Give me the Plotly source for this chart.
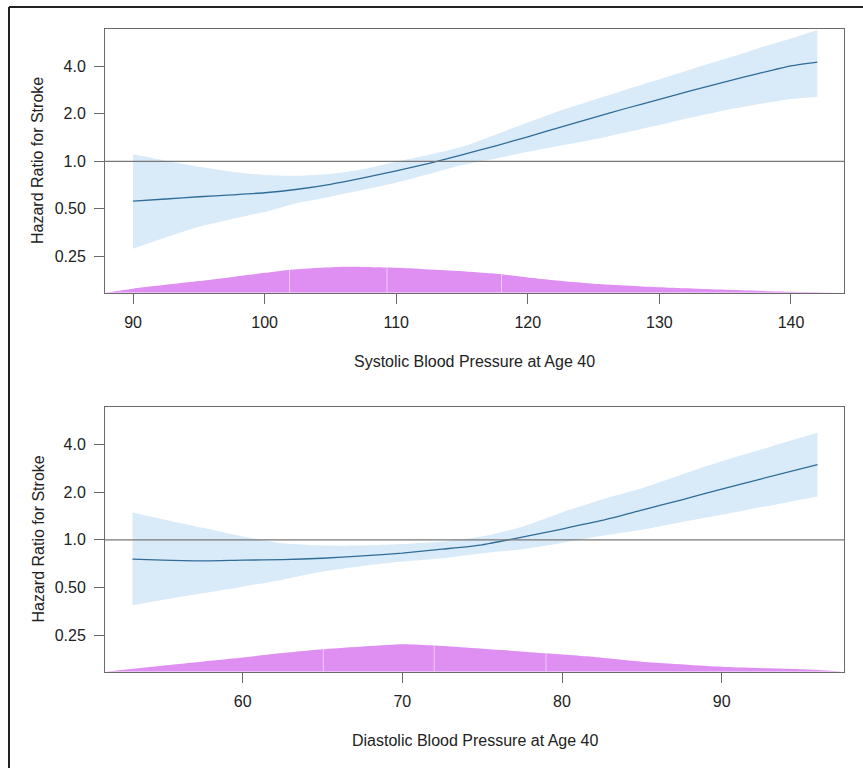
import plotly.graph_objects as go

# ---------------- data ----------------
# Systolic panel
sbp_x = [90, 92.5, 95, 97.5, 100, 102.5, 105, 107.5, 110, 112.5, 115, 117.5, 120, 122.5, 125, 127.5, 130, 132.5, 135, 137.5, 140, 142]
sbp_hr = [0.56, 0.577, 0.596, 0.613, 0.632, 0.665, 0.715, 0.785, 0.87, 0.97, 1.098, 1.25, 1.43, 1.65, 1.89, 2.17, 2.47, 2.82, 3.19, 3.6, 4.03, 4.26]
sbp_lo = [0.279, 0.33, 0.385, 0.43, 0.478, 0.545, 0.597, 0.66, 0.732, 0.83, 0.947, 1.04, 1.15, 1.26, 1.375, 1.53, 1.70, 1.9, 2.11, 2.3, 2.48, 2.57]
sbp_hi = [1.11, 1.01, 0.924, 0.86, 0.819, 0.81, 0.831, 0.89, 0.994, 1.10, 1.237, 1.47, 1.76, 2.1, 2.45, 2.85, 3.31, 3.85, 4.47, 5.2, 6.0, 6.8]
sbp_dens_x = [87.9, 90, 95, 100, 102, 106, 110, 115, 118, 120, 123, 125, 130, 135, 140, 144.0]
sbp_dens = [0.0, 0.0054, 0.0156, 0.0267, 0.031, 0.035, 0.0337, 0.0290, 0.0250, 0.0205, 0.0150, 0.0121, 0.0073, 0.004, 0.0013, 0.0]
sbp_seams = [101.9, 109.3, 118.0]

# Diastolic panel
dbp_x = [53.1, 55, 57.5, 60, 62.5, 65, 67.5, 70, 72.5, 75, 77.5, 80, 82.5, 85, 87.5, 90, 92.5, 96]
dbp_hr = [0.755, 0.745, 0.736, 0.744, 0.75, 0.765, 0.792, 0.824, 0.873, 0.93, 1.04, 1.17, 1.325, 1.54, 1.79, 2.09, 2.43, 2.99]
dbp_lo = [0.387, 0.417, 0.459, 0.506, 0.56, 0.63, 0.684, 0.729, 0.765, 0.824, 0.873, 0.955, 1.06, 1.157, 1.295, 1.44, 1.61, 1.88]
dbp_hi = [1.49, 1.35, 1.19, 1.05, 0.95, 0.92, 0.92, 0.94, 0.976, 1.05, 1.21, 1.49, 1.80, 2.12, 2.58, 3.13, 3.73, 4.74]
dbp_dens_x = [51.4, 55, 60, 62.3, 65, 70, 72, 76, 79, 82, 85, 90, 96, 97.6]
dbp_dens = [0.0, 0.0098, 0.023, 0.030, 0.0367, 0.045, 0.043, 0.036, 0.030, 0.0240, 0.0164, 0.0082, 0.0028, 0.0]
dbp_seams = [65.05, 72.0, 79.0]

y_tickvals = [0.25, 0.5, 1.0, 2.0, 4.0]
y_ticktext = ["0.25", "0.50", "1.0", "2.0", "4.0"]
sbp_ticks = [90, 100, 110, 120, 130, 140]
dbp_ticks = [60, 70, 80, 90]

x_title_1 = "Systolic Blood Pressure at Age 40"
x_title_2 = "Diastolic Blood Pressure at Age 40"
y_title = "Hazard Ratio for Stroke"

# ---------------- styles ----------------
W, H = 863, 768
BAND = "#d9eaf8"
LINE = "#2f6d98"
PURPLE = "#df8ef2"
FONT = "Liberation Sans, Arial, sans-serif"
AXC = "#6a6a6a"
FS = 16

def px_x(p):
    return p / W

def px_y(p):
    return 1 - p / H

fig = go.Figure()

def add_panel(fig, xs, hr, lo, hi, dx, dv, xa, ya, ya2):
    fig.add_trace(go.Scatter(x=dx, y=dv, xaxis=xa, yaxis=ya2, mode="lines",
                             line=dict(width=0, color=PURPLE, shape="spline", smoothing=0.5),
                             fill="tozeroy", fillcolor=PURPLE, hoverinfo="skip", showlegend=False))
    fig.add_trace(go.Scatter(x=xs, y=lo, xaxis=xa, yaxis=ya, mode="lines",
                             line=dict(width=0, color=BAND, shape="spline", smoothing=0.6),
                             hoverinfo="skip", showlegend=False))
    fig.add_trace(go.Scatter(x=xs, y=hi, xaxis=xa, yaxis=ya, mode="lines",
                             line=dict(width=0, color=BAND, shape="spline", smoothing=0.6),
                             fill="tonexty", fillcolor=BAND, hoverinfo="skip", showlegend=False))
    fig.add_trace(go.Scatter(x=xs, y=hr, xaxis=xa, yaxis=ya, mode="lines",
                             line=dict(width=1.3, color=LINE, shape="spline", smoothing=0.6),
                             showlegend=False))

add_panel(fig, sbp_x, sbp_hr, sbp_lo, sbp_hi, sbp_dens_x, sbp_dens, "x", "y", "y3")
add_panel(fig, dbp_x, dbp_hr, dbp_lo, dbp_hi, dbp_dens_x, dbp_dens, "x2", "y2", "y4")

p1_top, p1_bot = 29.3, 292.7
p2_top, p2_bot = 407.3, 671.7
xl, xr = 105, 844
xdom = [px_x(xl), px_x(xr)]

xcommon = dict(showline=True, linecolor=AXC, linewidth=1, mirror=True, ticks="outside",
               ticklen=10, tickcolor=AXC, tickwidth=1, showgrid=False, zeroline=False,
               tickfont=dict(family=FONT, size=FS, color="#222"), ticklabelstandoff=5)
ycommon = dict(type="log", range=[-0.833, 0.837], tickvals=y_tickvals, ticktext=y_ticktext,
               showline=True, linecolor=AXC, linewidth=1, mirror=True, ticks="outside",
               ticklen=10, tickcolor=AXC, tickwidth=1, showgrid=False, zeroline=False,
               tickfont=dict(family=FONT, size=FS, color="#222"), ticklabelstandoff=5)

fig.update_layout(
    width=W, height=H, margin=dict(l=0, r=0, t=0, b=0),
    paper_bgcolor="white", plot_bgcolor="white", showlegend=False,
    xaxis=dict(domain=xdom, range=[87.87, 144.03], tickvals=sbp_ticks, anchor="y", **xcommon),
    yaxis=dict(domain=[px_y(p1_bot), px_y(p1_top)], anchor="x", **ycommon),
    xaxis2=dict(domain=xdom, range=[51.38, 97.66], tickvals=dbp_ticks, anchor="y2", **xcommon),
    yaxis2=dict(domain=[px_y(p2_bot), px_y(p2_top)], anchor="x2", **ycommon),
    yaxis3=dict(overlaying="y", range=[0, 0.3546], visible=False, anchor="x"),
    yaxis4=dict(overlaying="y2", range=[0, 0.432], visible=False, anchor="x2"),
)

shapes = []
# faint white seams inside the density polygons (white on white is invisible above them)
for seams, xa, ya2, top in [(sbp_seams, "x", "y3", max(sbp_dens)), (dbp_seams, "x2", "y4", max(dbp_dens))]:
    for s in seams:
        shapes.append(dict(type="line", xref=xa, yref=ya2, x0=s, x1=s, y0=0, y1=top * 1.05,
                           line=dict(color="rgba(255,255,255,0.55)", width=1), layer="above"))
for xa, ya in [("x", "y"), ("x2", "y2")]:
    shapes.append(dict(type="line", xref=f"{xa} domain", yref=ya, x0=0, x1=1, y0=1, y1=1,
                       line=dict(color="#777777", width=1.2), layer="above"))
# outer frame
shapes.append(dict(type="line", xref="paper", yref="paper", x0=px_x(9), x1=px_x(9),
                   y0=0, y1=px_y(7), line=dict(color="#222", width=2)))
shapes.append(dict(type="line", xref="paper", yref="paper", x0=px_x(9), x1=1,
                   y0=px_y(7), y1=px_y(7), line=dict(color="#222", width=2)))
fig.update_layout(shapes=shapes)

ann = []
xc = px_x((xl + xr) / 2)
for t, yc in [(x_title_1, 361.7), (x_title_2, 740)]:
    ann.append(dict(text=t, xref="paper", yref="paper", x=xc, y=px_y(yc), showarrow=False,
                    xanchor="center", yanchor="middle", font=dict(family=FONT, size=FS, color="#222")))
for yc in [(p1_top + p1_bot) / 2, (p2_top + p2_bot) / 2]:
    ann.append(dict(text=y_title, xref="paper", yref="paper", x=px_x(38), y=px_y(yc), showarrow=False,
                    textangle=-90, xanchor="center", yanchor="middle",
                    font=dict(family=FONT, size=FS, color="#222")))
fig.update_layout(annotations=ann)

fig.write_html("out.html", config={"displayModeBar": False},
               post_script="document.body.style.margin='0';document.body.style.overflow='hidden';")
